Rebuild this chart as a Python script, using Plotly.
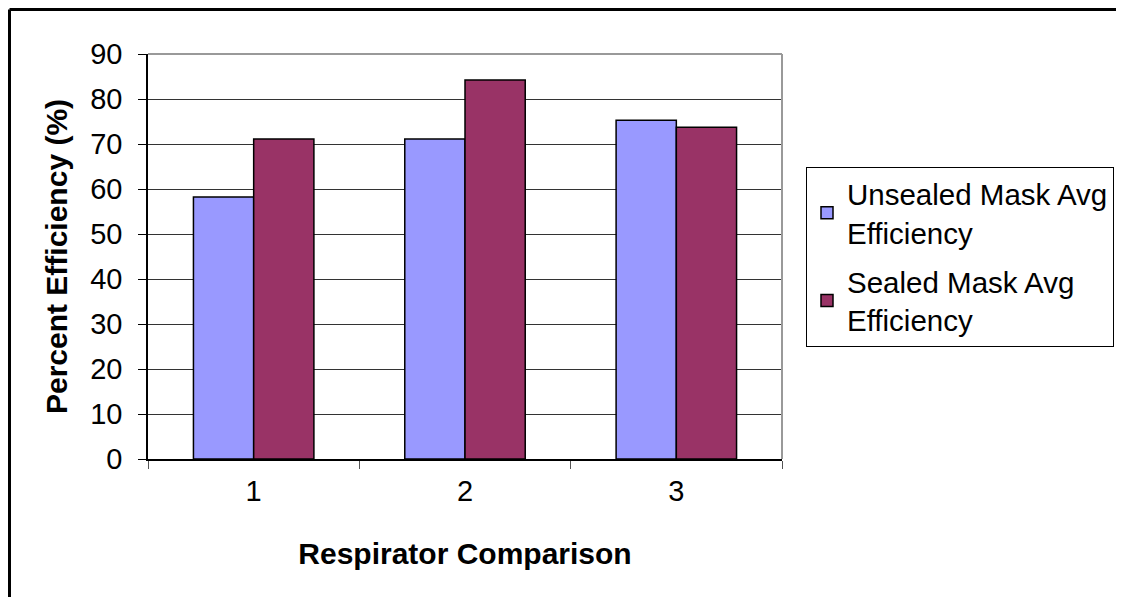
import plotly.graph_objects as go

categories = ["1", "2", "3"]
unsealed = [58.2, 71.1, 75.3]
sealed = [71.1, 84.2, 73.7]
series_names = ["Unsealed Mask Avg<br>Efficiency", "Sealed Mask Avg<br>Efficiency"]
y_ticks = [0, 10, 20, 30, 40, 50, 60, 70, 80, 90]

FONT = "Liberation Sans, Arial, sans-serif"

fig = go.Figure()
fig.add_trace(go.Bar(x=categories, y=unsealed, name=series_names[0], legendgroup="a",
                     marker=dict(color="#9999FF", line=dict(color="black", width=1.5))))
fig.add_trace(go.Bar(x=categories, y=sealed, name=series_names[1], legendgroup="b",
                     marker=dict(color="#993366", line=dict(color="black", width=1.5))))

# page has an 8px body margin; figure coords = page coords - 8
OFF = 8
W, H = 1124 - 2 * OFF, 609 - 2 * OFF - 4
L, T = 148 - OFF, 54 - OFF
R = W - (782 - OFF)
B = H - (459 - OFF)
pw, ph = W - L - R, H - T - B

def px_x(p):
    return (p - OFF - L) / pw

def px_y(p):
    return (H - B - (p - OFF)) / ph

fig.update_layout(
    width=W, height=H,
    margin=dict(l=L, r=R, t=T, b=B, autoexpand=False),
    paper_bgcolor="white", plot_bgcolor="white",
    barmode="group", bargap=0.43, bargroupgap=0,
    font=dict(family=FONT, color="black", size=29),
    showlegend=True,
    legend=dict(x=px_x(806), y=px_y(167), xanchor="left", yanchor="top",
                bordercolor="black", borderwidth=1, bgcolor="white",
                font=dict(size=29.5, family=FONT), tracegroupgap=8,
                itemwidth=30),
    xaxis=dict(
        type="category", tickson="boundaries", ticks="outside", ticklen=8,
        tickcolor="#555555", showline=True, linecolor="black", linewidth=1.5,
        showgrid=False, ticklabelstandoff=5,
        title=dict(text="<b>Respirator Comparison</b>", standoff=37,
                   font=dict(size=30, family=FONT)),
    ),
    yaxis=dict(
        range=[0, 90], tickvals=y_ticks, ticks="outside", ticklen=8,
        tickcolor="black", showline=True, linecolor="black", linewidth=1.5,
        showgrid=True, gridcolor="#333333", gridwidth=1, zeroline=False,
        ticklabelstandoff=10,
        title=dict(text="<b>Percent Efficiency (%)</b>", standoff=14,
                   font=dict(size=30, family=FONT)),
    ),
    shapes=[
        dict(type="line", xref="paper", yref="paper", x0=0, x1=1, y0=1, y1=1,
             line=dict(color="#999999", width=2)),
        dict(type="line", xref="paper", yref="paper", x0=1, x1=1, y0=0, y1=1,
             line=dict(color="#999999", width=2)),
        dict(type="line", xref="paper", yref="paper",
             x0=px_x(OFF + 1.5), x1=px_x(1300), y0=px_y(OFF + 1.5), y1=px_y(OFF + 1.5),
             line=dict(color="black", width=3), layer="above"),
        dict(type="line", xref="paper", yref="paper",
             x0=px_x(OFF + 1.5), x1=px_x(OFF + 1.5), y0=px_y(OFF + 1.5), y1=px_y(900),
             line=dict(color="black", width=3), layer="above"),
    ],
)

fig.write_html("out.html")
